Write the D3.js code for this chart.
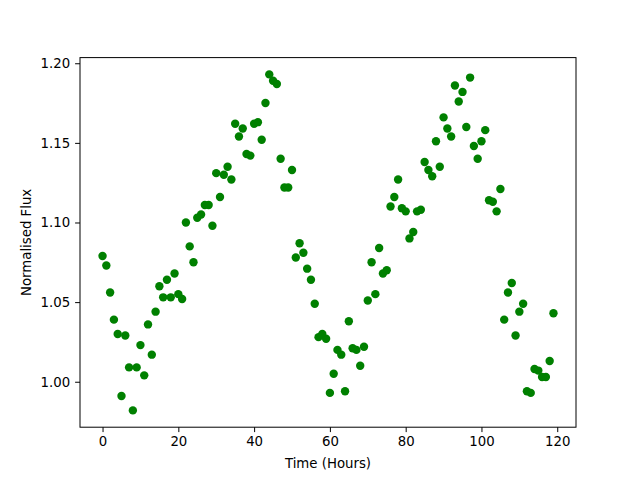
<!DOCTYPE html>
<html>
<head>
<meta charset="utf-8">
<script src="https://cdn.jsdelivr.net/npm/d3@7"></script>
<style>
  body { margin: 0; background: #fff; }
  text { font-family: "DejaVu Sans", sans-serif; }
</style>
</head>
<body>
<svg id="chart" width="640" height="480"></svg>
<script>
// flux readings, one per hour
var hours = d3.range(0, 120);
var flux = [
  1.079, 1.073, 1.056, 1.039, 1.030, 0.991, 1.029, 1.009, 0.982, 1.009,
  1.023, 1.004, 1.036, 1.017, 1.044, 1.060, 1.053, 1.064, 1.053, 1.068,
  1.055, 1.052, 1.100, 1.085, 1.075, 1.103, 1.105, 1.111, 1.111, 1.098,
  1.131, 1.116, 1.130, 1.135, 1.127, 1.162, 1.154, 1.159, 1.143, 1.142,
  1.162, 1.163, 1.152, 1.175, 1.193, 1.189, 1.187, 1.140, 1.122, 1.122,
  1.133, 1.078, 1.087, 1.081, 1.071, 1.064, 1.049, 1.028, 1.030, 1.027,
  0.993, 1.005, 1.020, 1.017, 0.994, 1.038, 1.021, 1.020, 1.010, 1.022,
  1.051, 1.075, 1.055, 1.084, 1.068, 1.070, 1.110, 1.116, 1.127, 1.109,
  1.107, 1.090, 1.094, 1.107, 1.108, 1.138, 1.133, 1.129, 1.151, 1.135,
  1.166, 1.159, 1.154, 1.186, 1.176, 1.182, 1.160, 1.191, 1.148, 1.140,
  1.151, 1.158, 1.114, 1.113, 1.107, 1.121, 1.039, 1.056, 1.062, 1.029,
  1.044, 1.049, 0.994, 0.993, 1.008, 1.007, 1.003, 1.003, 1.013, 1.043
];
var xTicks = [0, 20, 40, 60, 80, 100, 120];
var yTicks = [1.00, 1.05, 1.10, 1.15, 1.20];

var plotL = 80, plotR = 576, plotT = 57.6, plotB = 427.2;
var svg = d3.select('#chart');

// matplotlib style 5% margins
var xPad = (d3.max(hours) - d3.min(hours)) * 0.05;
var yPad = (d3.max(flux) - d3.min(flux)) * 0.05;
var x = d3.scaleLinear().domain([d3.min(hours) - xPad, d3.max(hours) + xPad]).range([plotL, plotR]);
var y = d3.scaleLinear().domain([d3.min(flux) - yPad, d3.max(flux) + yPad]).range([plotB, plotT]);

var xAxis = svg.append('g')
  .attr('transform', 'translate(0,' + plotB + ')')
  .call(d3.axisBottom(x).tickValues(xTicks).tickSize(4.9).tickPadding(4.9).tickFormat(d3.format('d')));
var yAxis = svg.append('g')
  .attr('transform', 'translate(' + plotL + ',0)')
  .call(d3.axisLeft(y).tickValues(yTicks).tickSize(4.9).tickPadding(4.9).tickFormat(d3.format('.2f')));

[xAxis, yAxis].forEach(function(a) {
  a.select('.domain').remove();
  a.selectAll('text').attr('font-family', '"DejaVu Sans", sans-serif').attr('font-size', '13.3px').attr('fill', '#000');
  a.selectAll('line').attr('stroke', '#000').attr('stroke-width', 1);
});

// the dots
svg.append('g').selectAll('circle')
  .data(hours)
  .enter().append('circle')
    .attr('cx', function(d) { return x(d); })
    .attr('cy', function(d, i) { return y(flux[i]); })
    .attr('r', 4.2)
    .attr('fill', '#008000');

// frame
svg.append('rect')
  .attr('x', plotL).attr('y', plotT)
  .attr('width', plotR - plotL).attr('height', plotB - plotT)
  .attr('fill', 'none').attr('stroke', '#000').attr('stroke-width', 1);

svg.append('text')
  .attr('x', (plotL + plotR) / 2).attr('y', 468)
  .attr('text-anchor', 'middle').attr('font-size', '13.3px')
  .text('Time (Hours)');

svg.append('text')
  .attr('transform', 'translate(31,' + (plotT + plotB) / 2 + ') rotate(-90)')
  .attr('text-anchor', 'middle').attr('font-size', '13.3px')
  .text('Normalised Flux');
</script>
</body>
</html>
